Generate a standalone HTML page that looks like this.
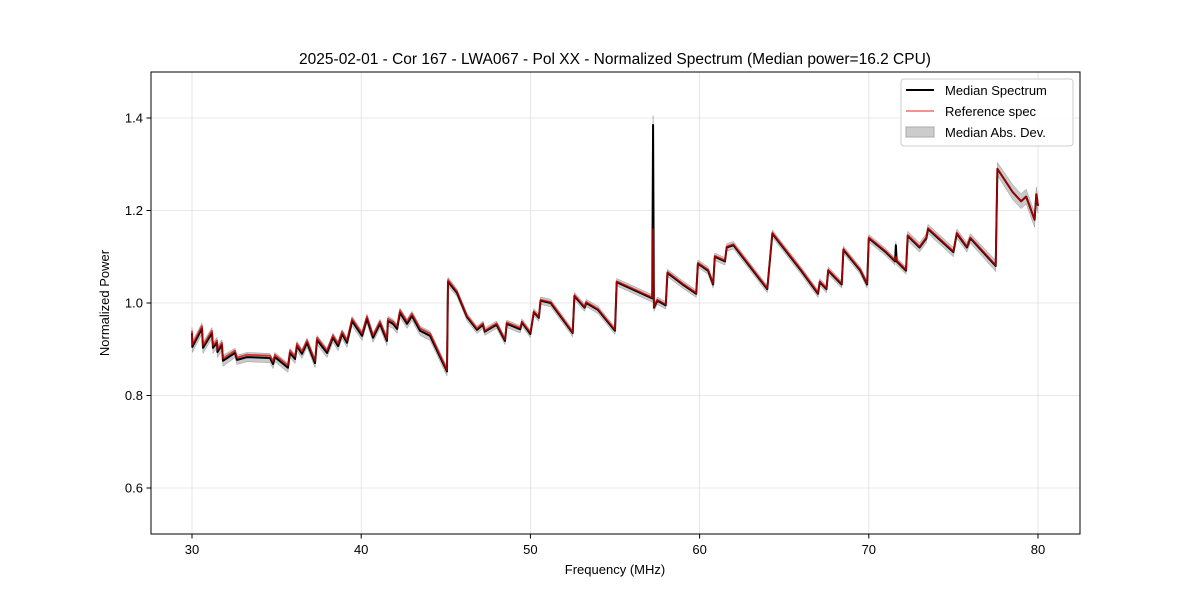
<!DOCTYPE html>
<html><head><meta charset="utf-8"><style>
body{margin:0;background:#fff;font-family:"Liberation Sans","DejaVu Sans",sans-serif}
svg text{font-family:"Liberation Sans","DejaVu Sans",sans-serif;fill:#000}
</style></head><body>
<svg id="chart" width="1200" height="600" viewBox="0 0 1200 600" xmlns="http://www.w3.org/2000/svg">
<rect width="1200" height="600" fill="#fff"/>
<text x="615" y="64" font-size="15.5" text-anchor="middle">2025-02-01 - Cor 167 - LWA067 - Pol XX - Normalized Spectrum (Median power=16.2 CPU)</text>
<g id="grid"></g>
<g id="series"></g>
<rect x="151" y="72" width="929" height="462" fill="none" stroke="#000" stroke-width="1"/>
<g id="axes"></g>
<text x="615" y="574" font-size="13" text-anchor="middle">Frequency (MHz)</text>
<text x="109" y="303" font-size="13" text-anchor="middle" transform="rotate(-90 109 303)">Normalized Power</text>
<g>
<rect x="901" y="79" width="172" height="67" rx="3" fill="#fff" fill-opacity="0.85" stroke="#ccc"/>
<g><line x1="906" y1="90" x2="934" y2="90" stroke="#000" stroke-width="2"/><text x="945" y="95" font-size="13">Median Spectrum</text></g>
<g><line x1="906" y1="111" x2="934" y2="111" stroke="#f26d6d" stroke-width="1.5"/><text x="945" y="116" font-size="13">Reference spec</text></g>
<g><rect x="906" y="127" width="28" height="10" fill="#ccc" stroke="#aaa"/><text x="945" y="137" font-size="13">Median Abs. Dev.</text></g>
</g>
</svg>
<script>
const freqs=[30.0,30.02,30.59,30.65,31.18,31.24,31.48,31.5,31.77,31.83,32.54,32.66,33.25,34.61,34.79,34.9,35.67,35.79,36.09,36.2,36.5,36.8,37.27,37.39,37.98,38.33,38.63,38.87,39.16,39.46,40.05,40.34,40.7,41.11,41.52,41.58,41.88,42.12,42.29,42.71,43.0,43.48,44.07,45.07,45.13,45.66,46.25,46.84,47.2,47.3,48.0,48.5,48.6,49.4,49.5,50.0,50.2,50.5,50.6,51.2,52.5,52.6,53.2,53.3,54.0,55.0,55.1,56.0,57.2,57.25,57.3,57.5,58.0,58.1,59.0,59.8,59.9,60.5,60.8,60.9,61.5,61.6,62.0,64.0,64.3,66.0,67.0,67.1,67.5,67.6,68.4,68.5,69.5,69.9,70.0,71.0,71.55,71.6,71.65,72.2,72.3,73.0,73.4,73.5,75.0,75.2,75.8,76.0,77.5,77.6,78.5,79.0,79.3,79.8,79.9,80.0];
const medianVals=[0.935,0.905,0.945,0.903,0.935,0.903,0.914,0.894,0.909,0.875,0.892,0.877,0.883,0.881,0.868,0.883,0.86,0.892,0.879,0.907,0.89,0.914,0.87,0.92,0.892,0.925,0.907,0.933,0.914,0.961,0.929,0.966,0.925,0.955,0.918,0.961,0.955,0.944,0.979,0.955,0.972,0.94,0.929,0.852,1.046,1.022,0.97,0.942,0.953,0.938,0.953,0.918,0.955,0.943,0.958,0.933,0.98,0.968,1.005,1.0,0.935,1.015,0.99,1.0,0.985,0.94,1.045,1.03,1.01,1.385,0.99,1.005,0.995,1.065,1.04,1.02,1.085,1.07,1.04,1.1,1.09,1.12,1.125,1.03,1.15,1.07,1.02,1.045,1.03,1.07,1.04,1.115,1.07,1.04,1.14,1.11,1.09,1.125,1.09,1.07,1.145,1.12,1.14,1.16,1.11,1.15,1.12,1.14,1.08,1.29,1.24,1.22,1.23,1.18,1.235,1.21];
const refVals=[0.94,0.91,0.95,0.908,0.94,0.908,0.919,0.899,0.914,0.88,0.897,0.882,0.888,0.886,0.873,0.888,0.865,0.897,0.884,0.912,0.895,0.919,0.875,0.925,0.897,0.93,0.912,0.938,0.919,0.966,0.934,0.971,0.93,0.96,0.923,0.966,0.96,0.949,0.984,0.96,0.977,0.945,0.934,0.855,1.05,1.025,0.972,0.945,0.956,0.94,0.956,0.921,0.958,0.946,0.96,0.936,0.982,0.97,1.007,1.002,0.937,1.017,0.992,1.002,0.987,0.942,1.047,1.032,1.012,1.16,0.992,1.007,0.997,1.067,1.042,1.022,1.087,1.072,1.042,1.102,1.092,1.122,1.127,1.032,1.152,1.072,1.022,1.047,1.032,1.072,1.042,1.117,1.072,1.042,1.142,1.112,1.092,1.1,1.092,1.072,1.147,1.122,1.142,1.162,1.112,1.152,1.122,1.142,1.082,1.29,1.24,1.22,1.23,1.18,1.235,1.21];
const madVals=[0.012,0.012,0.012,0.012,0.012,0.012,0.012,0.012,0.012,0.012,0.01,0.01,0.01,0.01,0.01,0.01,0.01,0.01,0.01,0.01,0.01,0.01,0.01,0.01,0.01,0.01,0.01,0.01,0.01,0.01,0.01,0.01,0.01,0.01,0.01,0.01,0.01,0.01,0.01,0.01,0.01,0.01,0.01,0.01,0.01,0.008,0.008,0.008,0.008,0.008,0.008,0.008,0.008,0.008,0.008,0.008,0.008,0.008,0.008,0.008,0.008,0.008,0.008,0.008,0.008,0.008,0.008,0.008,0.008,0.02,0.008,0.008,0.008,0.008,0.008,0.008,0.008,0.008,0.008,0.008,0.008,0.008,0.008,0.008,0.008,0.008,0.008,0.008,0.008,0.008,0.008,0.008,0.008,0.008,0.008,0.008,0.008,0.008,0.008,0.008,0.01,0.01,0.01,0.01,0.01,0.01,0.01,0.01,0.012,0.014,0.016,0.016,0.016,0.016,0.016,0.016];
const xTicks=[30,40,50,60,70,80];
const yTicks=[0.6,0.8,1.0,1.2,1.4];
const yTickLabels=["0.6","0.8","1.0","1.2","1.4"];
const NS='http://www.w3.org/2000/svg';
function X(f){return 192+(f-30)*(1038-192)/50;}
function Y(v){return 488-(v-0.6)*(488-118)/0.8;}
function mk(tag,attrs,parent){const e=document.createElementNS(NS,tag);for(const k in attrs)e.setAttribute(k,attrs[k]);parent.appendChild(e);return e;}
const grid=document.getElementById('grid'),axes=document.getElementById('axes'),series=document.getElementById('series');
xTicks.forEach(t=>{
 const g=mk('line',{x1:X(t),x2:X(t),y1:72,y2:534,stroke:'#e0e0e0','stroke-width':0.8},grid);
 
 
 const tk=mk('line',{x1:X(t),x2:X(t),y1:534,y2:538.5,stroke:'#000'},axes);
 
 
 const tx=mk('text',{x:X(t),y:554,'font-size':13,'text-anchor':'middle'},axes);tx.textContent=t;
 
 
});
yTicks.forEach((t,i)=>{
 const g=mk('line',{x1:151,x2:1080,y1:Y(t),y2:Y(t),stroke:'#e0e0e0','stroke-width':0.8},grid);
 
 
 const tk=mk('line',{x1:146.5,x2:151,y1:Y(t),y2:Y(t),stroke:'#000'},axes);
 
 
 const tx=mk('text',{x:143,y:Y(t)+4.5,'font-size':13,'text-anchor':'end'},axes);tx.textContent=yTickLabels[i];
 
 
});
let up=freqs.map((f,i)=>X(f)+','+Y(medianVals[i]+madVals[i]));
let dn=freqs.map((f,i)=>X(f)+','+Y(medianVals[i]-madVals[i])).reverse();
const band=mk('polygon',{points:up.concat(dn).join(' '),fill:'#bbb','fill-opacity':0.8,stroke:'#999','stroke-width':0.5},series);


const med=mk('polyline',{points:freqs.map((f,i)=>X(f)+','+Y(medianVals[i])).join(' '),fill:'none',stroke:'#000','stroke-width':2,'stroke-linejoin':'round'},series);


const ref=mk('polyline',{points:freqs.map((f,i)=>X(f)+','+Y(refVals[i])).join(' '),fill:'none',stroke:'#d00000','stroke-opacity':0.75,'stroke-width':1.8,'stroke-linejoin':'round'},series);


</script>
</body></html>
